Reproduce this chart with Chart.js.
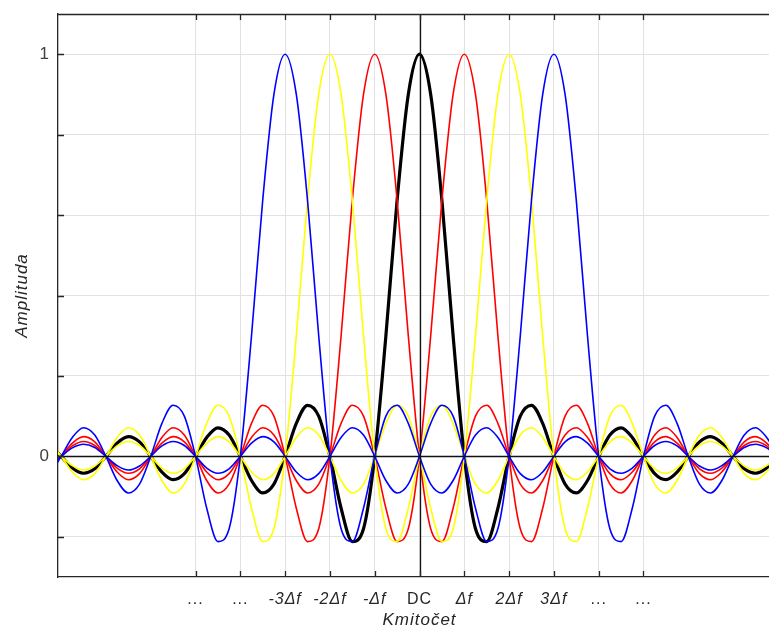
<!DOCTYPE html>
<html>
<head>
<meta charset="utf-8">
<script src="https://cdn.jsdelivr.net/npm/chart.js@4/dist/chart.umd.min.js"></script>
<style>
html, body { margin: 0; padding: 0; background: #fff; overflow: hidden; }
/* the original figure is cropped on the right, so the plot runs past the window edge */
#wrap { width: 781px; height: 631px; }
</style>
</head>
<body>
<div id="wrap"><canvas id="ofdmChart"></canvas></div>
<script>
// subcarriers: centre frequency (in Δf) of each sinc pulse
const subcarrierCentres = [-3, -2, -1, 0, 1, 2, 3];
const subcarrierColours = ['#0000ff', '#ffff00', '#ff0000', '#000000', '#ff0000', '#ffff00', '#0000ff'];

// one pulse (right half, it is symmetric)
const pulseOffsets = [
  0, 0.25, 0.5, 0.75, 1, 1.25, 1.5, 1.75, 2, 2.25, 2.5, 2.75,
  3, 3.25, 3.5, 3.75, 4, 4.25, 4.5, 4.75, 5, 5.25, 5.5, 5.75,
  6, 6.25, 6.5, 6.75, 7, 7.25, 7.5, 7.75, 8, 8.25, 8.5, 8.75,
  9, 9.25, 9.5, 9.75, 10, 10.25, 10.5, 10.75, 11, 11.25, 11.5
];
const pulseAmplitude = [
  1, 0.900, 0.637, 0.300, 0, -0.180, -0.212, -0.129, 0, 0.100, 0.127, 0.082,
  0, -0.069, -0.091, -0.060, 0, 0.053, 0.071, 0.047, 0, -0.043, -0.058, -0.039,
  0, 0.036, 0.049, 0.033, 0, -0.031, -0.042, -0.029, 0, 0.027, 0.037, 0.026,
  0, -0.024, -0.034, -0.023, 0, 0.022, 0.030, 0.021, 0, -0.020, -0.028
];

// axis ticks
const xTickValues = [-5, -4, -3, -2, -1, 0, 1, 2, 3, 4, 5];
const xTickLabels = ['...', '...', '-3\u0394f', '-2\u0394f', '-\u0394f', 'DC', '\u0394f', '2\u0394f', '3\u0394f', '...', '...'];
const yTickValues = [-0.2, 0, 0.2, 0.4, 0.6, 0.8, 1];
const yTickLabels = ['', '0', '', '', '', '', '1'];

const FONT = '"Liberation Sans", Arial, Helvetica, sans-serif';
const AXIS_COLOUR = '#262626';

// full pulse (mirror the half that was read)
function pulsePoints(centre) {
    const pts = [];
    for (let i = pulseOffsets.length - 1; i > 0; i--) {
        pts.push({ x: centre - pulseOffsets[i], y: pulseAmplitude[i] });
    }
    for (let i = 0; i < pulseOffsets.length; i++) {
        pts.push({ x: centre + pulseOffsets[i], y: pulseAmplitude[i] });
    }
    return pts;
}

const datasets = subcarrierCentres.map((c, i) => ({
    label: c === 0 ? 'DC' : c + '\u0394f',
    data: pulsePoints(c),
    borderColor: subcarrierColours[i],
    borderWidth: c === 0 ? 3.2 : 1.6,
    pointRadius: 0,
    fill: false,
    cubicInterpolationMode: 'monotone',
    // black at the bottom, then red, yellow, blue on top
    order: 4 - Math.abs(c)
}));

// the figure's text is set a little wide; canvas state is reset on resize, so set it each pass
const spacingPlugin = {
    id: 'spacing',
    beforeLayout(chart) { chart.ctx.letterSpacing = '1px'; },
    beforeDraw(chart) { chart.ctx.letterSpacing = '1px'; }
};

// MATLAB-like box: top line, inward ticks and the two zero lines
const boxPlugin = {
    id: 'box',
    afterDatasetsDraw(chart) {
        const { ctx, chartArea: a, scales: { x, y } } = chart;
        ctx.save();
        ctx.strokeStyle = '#111';
        ctx.lineWidth = 1.3;
        ctx.beginPath();
        const x0 = Math.round(x.getPixelForValue(0)) + 0.5;
        const y0 = Math.round(y.getPixelForValue(0)) + 0.5;
        ctx.moveTo(x0, a.top); ctx.lineTo(x0, a.bottom);
        ctx.moveTo(a.left, y0); ctx.lineTo(a.right, y0);
        ctx.stroke();

        ctx.strokeStyle = AXIS_COLOUR;
        ctx.lineWidth = 1.3;
        ctx.beginPath();
        ctx.moveTo(a.left, a.top + 0.5); ctx.lineTo(a.right, a.top + 0.5);
        xTickValues.forEach(v => {
            const px = Math.round(x.getPixelForValue(v)) + 0.5;
            ctx.moveTo(px, a.bottom); ctx.lineTo(px, a.bottom - 6);
            ctx.moveTo(px, a.top); ctx.lineTo(px, a.top + 6);
        });
        yTickValues.forEach(v => {
            const py = Math.round(y.getPixelForValue(v)) + 0.5;
            ctx.moveTo(a.left, py); ctx.lineTo(a.left + 6, py);
        });
        ctx.stroke();
        ctx.restore();
    }
};

new Chart(document.getElementById('ofdmChart'), {
    type: 'line',
    data: { datasets },
    options: {
        responsive: true,
        maintainAspectRatio: false,
        animation: false,
        layout: { padding: { left: 0, top: 14, right: 0, bottom: 0 } },
        scales: {
            x: {
                type: 'linear',
                min: -8.07,
                max: 8.07,
                afterBuildTicks: s => { s.ticks = xTickValues.map(v => ({ value: v })); },
                afterFit: s => { s.height = 54; s.paddingLeft = 0; s.paddingRight = 0; },
                ticks: {
                    autoSkip: false,
                    maxRotation: 0,
                    padding: 13,
                    color: AXIS_COLOUR,
                    font: ctx => ({
                        family: FONT,
                        size: 16,
                        style: String(xTickLabels[ctx.index]).includes('\u0394') ? 'italic' : 'normal'
                    }),
                    callback: (v, i) => xTickLabels[i]
                },
                grid: { color: '#e2e2e2', lineWidth: 1, drawTicks: false },
                border: { color: AXIS_COLOUR, width: 1.3 },
                title: {
                    display: true,
                    text: 'Kmito\u010Det',
                    color: AXIS_COLOUR,
                    font: { family: FONT, size: 17, style: 'italic' },
                    padding: { top: 1, bottom: 1 }
                }
            },
            y: {
                min: -0.3,
                max: 1.1,
                afterBuildTicks: s => { s.ticks = yTickValues.map(v => ({ value: v })); },
                afterFit: s => { s.width = 58; s.paddingTop = 0; s.paddingBottom = 0; },
                ticks: {
                    padding: 8,
                    color: '#404040',
                    font: { family: FONT, size: 17 },
                    callback: (v, i) => yTickLabels[i]
                },
                grid: { color: '#e2e2e2', lineWidth: 1, drawTicks: false },
                border: { color: AXIS_COLOUR, width: 1.3 },
                title: {
                    display: true,
                    text: 'Amplituda',
                    color: AXIS_COLOUR,
                    font: { family: FONT, size: 17, style: 'italic' },
                    padding: { top: 12, bottom: 12 }
                }
            }
        },
        plugins: {
            legend: { display: false },
            tooltip: { enabled: false }
        }
    },
    plugins: [spacingPlugin, boxPlugin]
});
</script>
</body>
</html>
